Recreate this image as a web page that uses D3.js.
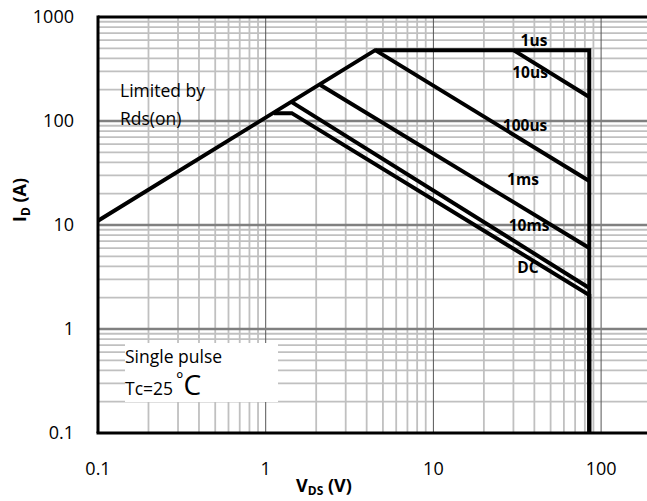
<!DOCTYPE html>
<html>
<head>
<meta charset="utf-8">
<script src="https://cdn.jsdelivr.net/npm/d3@7"></script>
<style>
  body { margin: 0; background: #fff; }
  svg { display: block; font-family: "Open Sans", sans-serif; }
</style>
</head>
<body>
<svg id="chart" width="647" height="501"></svg>
<script>
// safe operating area, log-log
const xTicks = [0.1, 1, 10, 100];
const yTicks = [0.1, 1, 10, 100, 1000];

// curves (VDS in V, ID in A)
const vds1us = [0.1, 4.5, 85, 85];
const id1us = [11, 480, 480, 0.1];
const vds10us = [30, 85];
const id10us = [480, 170];
const vds100us = [4.5, 85];
const id100us = [480, 26.5];
const vds1ms = [2.12, 85];
const id1ms = [222, 6.0];
const vds10ms = [1.43, 85];
const id10ms = [152, 2.48];
const vdsDC = [1.12, 1.43, 85, 85];
const idDC = [119, 119, 2.12, 0.1];

const curveNames = ['1us', '10us', '100us', '1ms', '10ms', 'DC'];
const labelV = [39.8, 37.7, 35.2, 34.2, 37.2, 36.6];
const labelI = [588, 290, 89.5, 27.1, 9.8, 3.86];

const svg = d3.select('#chart');
const W = 647, H = 501;

const x = d3.scaleLog().domain([0.1, 1000]).range([98, 98 + 4 * 167.7]);
const y = d3.scaleLog().domain([0.1, 1000]).range([433, 17]);

svg.append('rect').attr('width', W).attr('height', H).attr('fill', '#fff');

// minor/major grid values
const gridVals = [];
[0.1, 1, 10, 100].forEach(d => {
    for (let k = 1; k <= 9; k++) gridVals.push({ v: +(k * d).toPrecision(3), major: k === 1 });
});
gridVals.push({ v: 1000, major: true });

const grid = svg.append('g');
// vertical minor first, then horizontal, then majors
grid.selectAll('line.vmin')
    .data(gridVals.filter(d => !d.major))
    .enter().append('line')
    .attr('x1', d => x(d.v)).attr('x2', d => x(d.v))
    .attr('y1', y(1000)).attr('y2', y(0.1))
    .attr('stroke', '#c0c0c0').attr('stroke-width', 1.8);

grid.selectAll('line.hmin')
    .data(gridVals.filter(d => !d.major && d.v < 1000))
    .enter().append('line')
    .attr('x1', x(0.1)).attr('x2', W)
    .attr('y1', d => y(d.v)).attr('y2', d => y(d.v))
    .attr('stroke', '#c0c0c0').attr('stroke-width', 1.8);

grid.selectAll('line.vmaj')
    .data(gridVals.filter(d => d.major && d.v > 0.1))
    .enter().append('line')
    .attr('x1', d => x(d.v)).attr('x2', d => x(d.v))
    .attr('y1', y(1000)).attr('y2', y(0.1))
    .attr('stroke', '#555').attr('stroke-width', 1);

grid.selectAll('line.hmaj')
    .data(gridVals.filter(d => d.major && d.v > 0.1 && d.v < 1000))
    .enter().append('line')
    .attr('x1', x(0.1)).attr('x2', W)
    .attr('y1', d => y(d.v)).attr('y2', d => y(d.v))
    .attr('stroke', '#808080').attr('stroke-width', 2.5);

// white box behind the "Single pulse" note
svg.append('rect')
    .attr('x', 125).attr('y', 343).attr('width', 153).attr('height', 59)
    .attr('fill', '#fff');

// frame
svg.append('line').attr('x1', x(0.1)).attr('x2', W).attr('y1', y(1000)).attr('y2', y(1000))
    .attr('stroke', '#000').attr('stroke-width', 3);
svg.append('line').attr('x1', x(0.1) - 1.5).attr('x2', W).attr('y1', y(0.1)).attr('y2', y(0.1))
    .attr('stroke', '#000').attr('stroke-width', 3);
svg.append('line').attr('x1', x(0.1)).attr('x2', x(0.1)).attr('y1', y(1000) - 1.5).attr('y2', y(0.1))
    .attr('stroke', '#000').attr('stroke-width', 3);

// curves
const curves = [
    [vds1us, id1us], [vds10us, id10us], [vds100us, id100us],
    [vds1ms, id1ms], [vds10ms, id10ms], [vdsDC, idDC]
];
const line = d3.line().x(d => x(d[0])).y(d => y(d[1]));

curves.forEach(([vs, is]) => {
    svg.append('path')
        .datum(vs.map((v, i) => [v, is[i]]))
        .attr('d', line)
        .attr('fill', 'none')
        .attr('stroke', '#000')
        .attr('stroke-width', 4)
        .attr('stroke-linejoin', 'miter');
});

// curve labels
svg.selectAll('text.curve')
    .data(curveNames)
    .enter().append('text')
    .attr('x', (d, i) => x(labelV[i]))
    .attr('y', (d, i) => y(labelI[i]))
    .attr('dy', '0.35em')
    .attr('text-anchor', 'middle')
    .attr('font-size', 15.5)
    .attr('font-weight', 'bold')
    .attr('fill', '#000')
    .text(d => d);

// tick labels
svg.selectAll('text.xt')
    .data(xTicks)
    .enter().append('text')
    .attr('x', d => x(d))
    .attr('y', 475)
    .attr('text-anchor', 'middle')
    .attr('font-size', 18)
    .text(d => d);

svg.selectAll('text.yt')
    .data(yTicks)
    .enter().append('text')
    .attr('x', 74)
    .attr('y', d => y(d))
    .attr('dy', '0.36em')
    .attr('text-anchor', 'end')
    .attr('font-size', 18)
    .text(d => d);

// axis titles
const xt = svg.append('text')
    .attr('x', 324).attr('y', 492)
    .attr('text-anchor', 'middle')
    .attr('font-size', 18)
    .attr('font-weight', 'bold');
xt.append('tspan').text('V');
xt.append('tspan').attr('font-size', 12).attr('dy', 3).text('DS');
xt.append('tspan').attr('dy', -3).text(' (V)');

const yt = svg.append('text')
    .attr('transform', 'translate(26,200) rotate(-90)')
    .attr('text-anchor', 'middle')
    .attr('font-size', 18)
    .attr('font-weight', 'bold');
yt.append('tspan').text('I');
yt.append('tspan').attr('font-size', 12).attr('dy', 4).text('D');
yt.append('tspan').attr('dy', -4).text(' (A)');

// notes
svg.append('text').attr('x', 120).attr('y', 97).attr('font-size', 17.5).text('Limited by');
svg.append('text').attr('x', 120).attr('y', 125).attr('font-size', 17.5).text('Rds(on)');
svg.append('text').attr('x', 125).attr('y', 363).attr('font-size', 17.5).text('Single pulse');
const tc = svg.append('text').attr('x', 125).attr('y', 395).attr('font-size', 17.5);
tc.append('tspan').text('Tc=25');
tc.append('tspan').attr('dx', 3).attr('dy', -9).attr('font-size', 17.5).text('°');
tc.append('tspan').attr('dy', 9).attr('font-size', 28).text('C');
</script>
</body>
</html>
